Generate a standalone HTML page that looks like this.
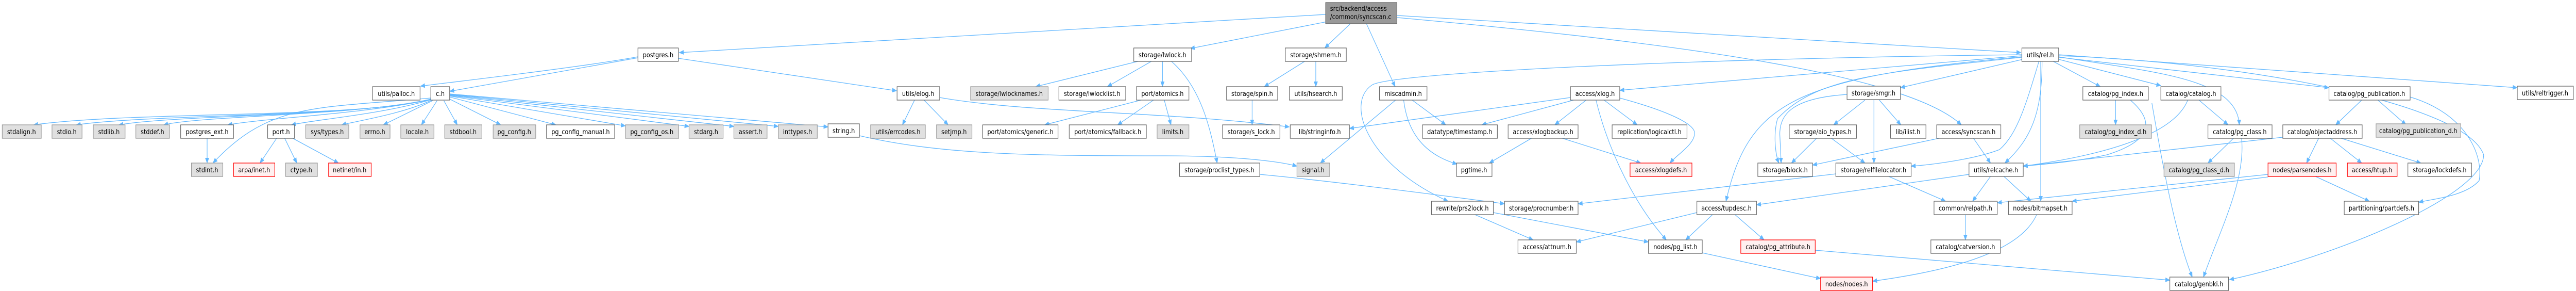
<!DOCTYPE html>
<html><head><meta charset="utf-8"><style>
html,body{margin:0;padding:0;background:#fff;overflow:hidden;width:100%;height:100%;}
svg{display:block;width:100vw;height:100vh;}
text{font-family:"DejaVu Sans","Liberation Sans",sans-serif;font-size:13px;fill:#000;}
.e{fill:none;stroke:#63b8ff;stroke-width:1.3;marker-end:url(#a);}
.w{fill:#fff;stroke:#666;stroke-width:1.3;}
.g{fill:#e0e0e0;stroke:#999;stroke-width:1.3;}
.r{fill:#fff0f0;stroke:#f00;stroke-width:1.3;}
.t{fill:#999;stroke:#666;stroke-width:1.3;}
</style></head><body>
<svg viewBox="0 0 5746 564" preserveAspectRatio="none" xmlns="http://www.w3.org/2000/svg">
<defs><marker id="a" markerWidth="11" markerHeight="9" refX="10" refY="4.5" orient="auto" markerUnits="userSpaceOnUse"><path d="M0,0 L11,4.5 L0,9 z" fill="#63b8ff"/></marker></defs>
<g>
<path class="e" d="M2957,28 L1515,102"/>
<path class="e" d="M2960,42 L2655,94"/>
<path class="e" d="M3012,46 L2955,93"/>
<path class="e" d="M3048,46 L3112,168"/>
<path class="e" d="M3116,30 L4508,102"/>
<path class="e" d="M3116,34 C3700,80 4250,140 4375,242"/>
<path class="e" d="M1423,112 L1003,177"/>
<path class="e" d="M1423,110 C1300,130 1000,160 938,167"/>
<path class="e" d="M1513,113 L2000,176"/>
<path class="e" d="M962,192 C800,230 300,215 75,242"/>
<path class="e" d="M962,192 C800,228 350,220 170,242"/>
<path class="e" d="M962,192 C800,226 400,222 265,242"/>
<path class="e" d="M962,192 C800,224 450,224 365,242"/>
<path class="e" d="M962,193 C800,222 600,228 508,242"/>
<path class="e" d="M962,193 C850,222 700,232 650,242"/>
<path class="e" d="M963,194 C900,220 800,234 762,242"/>
<path class="e" d="M965,195 L855,242"/>
<path class="e" d="M975,195 L940,242"/>
<path class="e" d="M961,190 C700,210 600,200 475,316"/>
<path class="e" d="M990,195 L1020,242"/>
<path class="e" d="M1003,192 L1117,242"/>
<path class="e" d="M1003,188 L1240,242"/>
<path class="e" d="M1003,186 L1395,244"/>
<path class="e" d="M1003,185 L1537,245"/>
<path class="e" d="M1003,184 L1637,245"/>
<path class="e" d="M1003,183 L1736,245"/>
<path class="e" d="M1003,182 L1847,246"/>
<path class="e" d="M617,268 L580,316"/>
<path class="e" d="M635,268 L662,316"/>
<path class="e" d="M653,268 L755,316"/>
<path class="e" d="M462,268 L462,316"/>
<path class="e" d="M2040,194 L2013,242"/>
<path class="e" d="M2061,194 L2115,242"/>
<path class="e" d="M2096,189 C2300,220 2600,215 2876,246"/>
<path class="e" d="M1917,263 C2100,300 2300,302 2600,302 C2750,302 2850,312 2893,322"/>
<path class="e" d="M2538,119 L2310,168"/>
<path class="e" d="M2568,119 L2470,168"/>
<path class="e" d="M2593,119 L2593,168"/>
<path class="e" d="M2613,119 C2680,170 2700,250 2715,316"/>
<path class="e" d="M2545,194 L2330,242"/>
<path class="e" d="M2573,194 L2493,242"/>
<path class="e" d="M2597,194 L2612,242"/>
<path class="e" d="M2910,119 L2820,168"/>
<path class="e" d="M2935,119 L2935,168"/>
<path class="e" d="M2793,194 L2793,242"/>
<path class="e" d="M2810,338 C2900,345 3100,365 3356,395"/>
<path class="e" d="M3113,194 L2945,316"/>
<path class="e" d="M3150,194 L3225,242"/>
<path class="e" d="M3131,194 C3140,260 3180,300 3250,318"/>
<path class="e" d="M3503,189 L3010,249"/>
<path class="e" d="M3510,194 L3305,242"/>
<path class="e" d="M3538,194 L3468,242"/>
<path class="e" d="M3578,194 L3652,242"/>
<path class="e" d="M3613,190 C3720,215 3780,240 3780,258 C3780,280 3740,300 3725,316"/>
<path class="e" d="M3560,194 C3590,300 3650,400 3717,465"/>
<path class="e" d="M3416,268 L3322,316"/>
<path class="e" d="M3485,268 L3660,316"/>
<path class="e" d="M4510,108 L3613,175"/>
<path class="e" d="M4510,106 C3800,113 3100,140 3060,165 C3000,200 3050,320 3230,390"/>
<path class="e" d="M4510,110 C4000,150 3900,200 3850,390"/>
<path class="e" d="M4512,115 L4239,170"/>
<path class="e" d="M4510,111 C4200,140 4050,150 3965,230 C3955,260 3960,300 3968,316"/>
<path class="e" d="M4548,119 C4520,200 4500,260 4460,290 C4400,310 4300,320 4263,322"/>
<path class="e" d="M4555,119 C4555,220 4530,270 4472,316"/>
<path class="e" d="M4552,119 L4552,390"/>
<path class="e" d="M4580,119 L4685,168"/>
<path class="e" d="M4592,115 L4820,166"/>
<path class="e" d="M4592,110 C4800,140 4990,150 4995,242"/>
<path class="e" d="M4592,111 L5195,170"/>
<path class="e" d="M4592,106 L5615,170"/>
<path class="e" d="M4592,108 C5000,120 5500,200 5540,300 C5540,380 5200,500 4973,542"/>
<path class="e" d="M5376,188 C5500,220 5540,300 5530,350 C5500,380 5430,385 5395,392"/>
<path class="e" d="M4160,194 L4090,242"/>
<path class="e" d="M4180,194 L4180,316"/>
<path class="e" d="M4192,194 L4240,242"/>
<path class="e" d="M4120,183 C4000,190 3970,220 3970,260 L3973,316"/>
<path class="e" d="M4052,268 L3996,316"/>
<path class="e" d="M4085,268 L4160,316"/>
<path class="e" d="M4325,268 L4043,320"/>
<path class="e" d="M4402,268 L4440,316"/>
<path class="e" d="M4213,342 L4340,390"/>
<path class="e" d="M4095,337 L3520,395"/>
<path class="e" d="M4440,342 L4400,390"/>
<path class="e" d="M4470,342 L4530,390"/>
<path class="e" d="M4392,338 L3918,397"/>
<path class="e" d="M4384,416 L4384,465"/>
<path class="e" d="M4543,416 C4500,500 4300,530 4177,545"/>
<path class="e" d="M3870,416 L3935,465"/>
<path class="e" d="M3785,412 L3516,469"/>
<path class="e" d="M3820,416 L3760,465"/>
<path class="e" d="M3290,416 L3420,465"/>
<path class="e" d="M3331,412 L3677,469"/>
<path class="e" d="M3797,490 L4061,540"/>
<path class="e" d="M4049,485 L4840,543"/>
<path class="e" d="M4719,194 L4719,242"/>
<path class="e" d="M4752,194 C4800,230 4810,270 4700,300 C4620,315 4560,318 4513,322"/>
<path class="e" d="M4905,194 L4970,242"/>
<path class="e" d="M4880,194 C4850,260 4700,300 4513,322"/>
<path class="e" d="M4982,268 L4925,316"/>
<path class="e" d="M5000,268 C5010,350 4950,450 4915,537"/>
<path class="e" d="M4800,200 C4820,300 4850,450 4890,537"/>
<path class="e" d="M5172,268 L5145,316"/>
<path class="e" d="M5198,268 L5268,316"/>
<path class="e" d="M5222,268 L5400,316"/>
<path class="e" d="M5092,266 L4513,322"/>
<path class="e" d="M5268,194 L5210,242"/>
<path class="e" d="M5304,194 L5367,242"/>
<path class="e" d="M5165,342 L5285,390"/>
<path class="e" d="M5059,338 L4455,393"/>
<path class="e" d="M5059,343 L4622,390"/>
</g>
<g>
<rect class="t" x="2957" y="5" width="159" height="41"/><text x="2967" y="21">src/backend/access</text><text x="2967" y="37">/common/syncscan.c</text>
</g>
<g text-anchor="middle">
<rect class="w" x="1423" y="93" width="90" height="26"/><text x="1468" y="111">postgres.h</text>
<rect class="w" x="2529" y="93" width="129" height="26"/><text x="2593" y="111">storage/lwlock.h</text>
<rect class="w" x="2867" y="93" width="136" height="26"/><text x="2935" y="111">storage/shmem.h</text>
<rect class="w" x="4510" y="93" width="82" height="26"/><text x="4551" y="111">utils/rel.h</text>

<rect class="w" x="831" y="168" width="106" height="26"/><text x="884" y="186">utils/palloc.h</text>
<rect class="w" x="961" y="168" width="42" height="26"/><text x="982" y="186">c.h</text>
<rect class="w" x="2001" y="168" width="95" height="26"/><text x="2048" y="186">utils/elog.h</text>
<rect class="g" x="2165" y="168" width="173" height="26"/><text x="2251" y="186">storage/lwlocknames.h</text>
<rect class="w" x="2362" y="168" width="149" height="26"/><text x="2436" y="186">storage/lwlocklist.h</text>
<rect class="w" x="2535" y="168" width="117" height="26"/><text x="2593" y="186">port/atomics.h</text>
<rect class="w" x="2736" y="168" width="114" height="26"/><text x="2793" y="186">storage/spin.h</text>
<rect class="w" x="2876" y="168" width="118" height="26"/><text x="2935" y="186">utils/hsearch.h</text>
<rect class="w" x="3077" y="168" width="106" height="26"/><text x="3130" y="186">miscadmin.h</text>
<rect class="w" x="3503" y="168" width="110" height="26"/><text x="3558" y="186">access/xlog.h</text>
<rect class="w" x="4120" y="167" width="119" height="26"/><text x="4179" y="185">storage/smgr.h</text>
<rect class="w" x="4646" y="168" width="146" height="26"/><text x="4719" y="186">catalog/pg_index.h</text>
<rect class="w" x="4820" y="168" width="134" height="26"/><text x="4887" y="186">catalog/catalog.h</text>
<rect class="w" x="5195" y="168" width="181" height="26"/><text x="5285" y="186">catalog/pg_publication.h</text>
<rect class="w" x="5615" y="167" width="125" height="26"/><text x="5677" y="185">utils/reltrigger.h</text>

<rect class="g" x="5" y="242" width="87" height="26"/><text x="48" y="260">stdalign.h</text>
<rect class="g" x="116" y="242" width="67" height="26"/><text x="149" y="260">stdio.h</text>
<rect class="g" x="208" y="242" width="71" height="26"/><text x="243" y="260">stdlib.h</text>
<rect class="g" x="303" y="242" width="75" height="26"/><text x="340" y="260">stddef.h</text>
<rect class="w" x="403" y="242" width="118" height="26"/><text x="462" y="260">postgres_ext.h</text>
<rect class="w" x="597" y="242" width="60" height="26"/><text x="627" y="260">port.h</text>
<rect class="g" x="682" y="242" width="96" height="26"/><text x="730" y="260">sys/types.h</text>
<rect class="g" x="803" y="242" width="67" height="26"/><text x="836" y="260">errno.h</text>
<rect class="g" x="894" y="242" width="74" height="26"/><text x="931" y="260">locale.h</text>
<rect class="g" x="992" y="242" width="83" height="26"/><text x="1033" y="260">stdbool.h</text>
<rect class="g" x="1100" y="242" width="95" height="26"/><text x="1147" y="260">pg_config.h</text>
<rect class="w" x="1219" y="242" width="152" height="26"/><text x="1295" y="260">pg_config_manual.h</text>
<rect class="g" x="1395" y="242" width="119" height="26"/><text x="1454" y="260">pg_config_os.h</text>
<rect class="g" x="1537" y="242" width="76" height="26"/><text x="1575" y="260">stdarg.h</text>
<rect class="g" x="1637" y="242" width="74" height="26"/><text x="1674" y="260">assert.h</text>
<rect class="g" x="1736" y="242" width="87" height="26"/><text x="1779" y="260">inttypes.h</text>
<rect class="w" x="1847" y="240" width="70" height="26"/><text x="1882" y="258">string.h</text>
<rect class="g" x="1942" y="242" width="122" height="26"/><text x="2003" y="260">utils/errcodes.h</text>
<rect class="g" x="2089" y="242" width="79" height="26"/><text x="2128" y="260">setjmp.h</text>
<rect class="w" x="2192" y="242" width="168" height="26"/><text x="2276" y="260">port/atomics/generic.h</text>
<rect class="w" x="2385" y="242" width="172" height="26"/><text x="2471" y="260">port/atomics/fallback.h</text>
<rect class="g" x="2581" y="242" width="71" height="26"/><text x="2616" y="260">limits.h</text>
<rect class="w" x="2727" y="242" width="128" height="26"/><text x="2791" y="260">storage/s_lock.h</text>
<rect class="w" x="2878" y="242" width="132" height="26"/><text x="2944" y="260">lib/stringinfo.h</text>
<rect class="w" x="3173" y="242" width="167" height="26"/><text x="3256" y="260">datatype/timestamp.h</text>
<rect class="w" x="3364" y="242" width="156" height="26"/><text x="3442" y="260">access/xlogbackup.h</text>
<rect class="w" x="3596" y="242" width="167" height="26"/><text x="3679" y="260">replication/logicalctl.h</text>
<rect class="w" x="3991" y="242" width="150" height="26"/><text x="4066" y="260">storage/aio_types.h</text>
<rect class="w" x="4217" y="242" width="79" height="26"/><text x="4256" y="260">lib/ilist.h</text>
<rect class="w" x="4320" y="242" width="143" height="26"/><text x="4391" y="260">access/syncscan.h</text>
<rect class="g" x="4639" y="242" width="160" height="26"/><text x="4719" y="260">catalog/pg_index_d.h</text>
<rect class="w" x="4925" y="242" width="143" height="26"/><text x="4996" y="260">catalog/pg_class.h</text>
<rect class="w" x="5092" y="242" width="177" height="26"/><text x="5180" y="260">catalog/objectaddress.h</text>
<rect class="g" x="5300" y="240" width="189" height="26"/><text x="5394" y="258">catalog/pg_publication_d.h</text>

<rect class="g" x="427" y="316" width="70" height="26"/><text x="462" y="334">stdint.h</text>
<rect class="r" x="521" y="316" width="92" height="26"/><text x="567" y="334">arpa/inet.h</text>
<rect class="g" x="637" y="316" width="71" height="26"/><text x="672" y="334">ctype.h</text>
<rect class="r" x="733" y="316" width="95" height="26"/><text x="780" y="334">netinet/in.h</text>
<rect class="w" x="2631" y="316" width="179" height="26"/><text x="2720" y="334">storage/proclist_types.h</text>
<rect class="g" x="2893" y="316" width="73" height="26"/><text x="2929" y="334">signal.h</text>
<rect class="w" x="3249" y="316" width="79" height="26"/><text x="3288" y="334">pgtime.h</text>
<rect class="r" x="3636" y="316" width="138" height="26"/><text x="3705" y="334">access/xlogdefs.h</text>
<rect class="w" x="3921" y="316" width="122" height="26"/><text x="3982" y="334">storage/block.h</text>
<rect class="w" x="4095" y="316" width="168" height="26"/><text x="4179" y="334">storage/relfilelocator.h</text>
<rect class="w" x="4392" y="316" width="121" height="26"/><text x="4452" y="334">utils/relcache.h</text>
<rect class="g" x="4827" y="316" width="157" height="26"/><text x="4905" y="334">catalog/pg_class_d.h</text>
<rect class="r" x="5059" y="316" width="152" height="26"/><text x="5135" y="334">nodes/parsenodes.h</text>
<rect class="r" x="5236" y="316" width="111" height="26"/><text x="5291" y="334">access/htup.h</text>
<rect class="w" x="5371" y="316" width="142" height="26"/><text x="5442" y="334">storage/lockdefs.h</text>

<rect class="w" x="3193" y="390" width="138" height="26"/><text x="3262" y="408">rewrite/prs2lock.h</text>
<rect class="w" x="3356" y="390" width="164" height="26"/><text x="3438" y="408">storage/procnumber.h</text>
<rect class="w" x="3785" y="390" width="133" height="26"/><text x="3851" y="408">access/tupdesc.h</text>
<rect class="w" x="4314" y="390" width="141" height="26"/><text x="4384" y="408">common/relpath.h</text>
<rect class="w" x="4480" y="390" width="142" height="26"/><text x="4551" y="408">nodes/bitmapset.h</text>
<rect class="w" x="5229" y="390" width="166" height="26"/><text x="5312" y="408">partitioning/partdefs.h</text>

<rect class="w" x="3386" y="465" width="130" height="26"/><text x="3451" y="483">access/attnum.h</text>
<rect class="w" x="3677" y="465" width="120" height="26"/><text x="3737" y="483">nodes/pg_list.h</text>
<rect class="r" x="3883" y="465" width="166" height="26"/><text x="3966" y="483">catalog/pg_attribute.h</text>
<rect class="w" x="4307" y="465" width="155" height="26"/><text x="4384" y="483">catalog/catversion.h</text>

<rect class="r" x="4061" y="537" width="116" height="26"/><text x="4119" y="555">nodes/nodes.h</text>
<rect class="w" x="4840" y="537" width="131" height="26"/><text x="4905" y="555">catalog/genbki.h</text>
</g>
</svg>
</body></html>
